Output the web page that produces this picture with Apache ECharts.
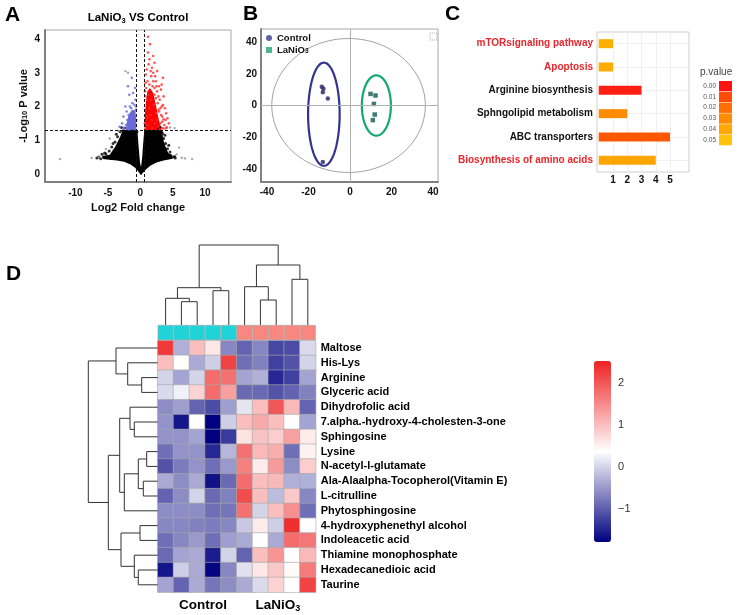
<!DOCTYPE html>
<html><head><meta charset="utf-8">
<script src="https://cdn.jsdelivr.net/npm/echarts@6/dist/echarts.min.js"></script>
<style>html,body{margin:0;padding:0;background:#fff}#c{width:738px;height:615px}</style>
</head><body><div id="c"></div>
<script>
// ---------- Panel A: volcano ----------
const volcanoXTicks = [-10, -5, 0, 5, 10];
const volcanoYTicks = [0, 1, 2, 3, 4];
const foldCut = 0.585, pCut = 1.301;
const blackCloud = [[0.1,-0.04],[-0.3,0.07],[-0.8,0.18],[-1.5,0.28],[-2.5,0.36],[-3.6,0.4],[-4.8,0.42],[-5.8,0.44],[-5.9,0.53],[-4.7,0.57],[-4.4,0.66],[-3.9,0.8],[-3.5,0.95],[-3.1,1.1],[-2.7,1.3],[-0.45,1.3],[-0.25,0.8],[-0.05,0.35],[0.12,0.2],[0.3,0.5],[0.45,0.9],[0.62,1.3],[3.3,1.3],[3.45,1.15],[3.65,0.95],[3.95,0.78],[4.3,0.62],[4.9,0.57],[5.0,0.45],[3.6,0.4],[2.5,0.34],[1.6,0.25],[0.9,0.14],[0.45,0.04]];
const redCloud = [[0.68,1.3],[3.3,1.3],[3.0,1.5],[2.7,1.75],[2.4,2.05],[2.0,2.4],[1.5,2.55],[1.1,2.45],[0.85,2.1],[0.7,1.7]];
const blueCloud = [[-0.62,1.3],[-2.2,1.3],[-2.1,1.5],[-1.8,1.75],[-1.3,1.9],[-0.75,1.88],[-0.62,1.6]];
const volcanoBlack = [[-3.1,1.25],[-3.5,1.1],[-3.9,0.95],[-4.4,0.8],[-4.8,0.68],[-5.3,0.6],[-5.9,0.58],[-6.4,0.5],[-2.9,1.38],[-3.3,0.9],[-4.0,0.62],[-2.7,1.28],[3.3,1.25],[3.6,1.05],[3.9,0.9],[4.2,0.75],[4.6,0.65],[5.0,0.5],[3.45,1.2],[3.1,1.38],[4.1,0.62],[-1.2,1.28],[-0.5,1.25],[0.8,1.27],[2.0,1.28],[-6.1,0.45],[-5.5,0.62],[-4.2,0.9],[-3.7,1.18],[5.3,0.52],[5.4,0.47],[4.4,0.85],[3.8,1.15],[-6.7,0.47],[-2.4,1.36],[2.8,1.35]];
const volcanoRed = [[1.2,4.07],[1.5,3.85],[1.4,3.4],[2.2,3.3],[2.6,3.05],[2.0,3.0],[1.0,3.1],[1.7,2.9],[3.5,2.85],[2.4,2.75],[1.1,2.75],[2.9,2.6],[3.2,2.5],[2.6,2.45],[1.9,2.6],[0.9,2.55],[3.6,2.3],[3.0,2.2],[2.7,2.1],[3.3,2.0],[3.8,1.95],[2.9,1.85],[3.4,1.7],[3.9,1.6],[3.1,1.5],[3.7,1.45],[4.1,1.38],[2.8,1.4],[3.5,1.35],[0.8,2.3],[1.3,2.35],[2.2,2.35],[1.6,2.2],[0.75,1.9],[2.4,1.8],[1.1,1.7],[0.7,1.5],[2.1,2.05],[1.8,1.6],[2.6,1.6],[3.0,1.33],[1.4,1.95],[1.9,1.35],[1.2,1.45],[0.9,1.35],[2.3,1.5],[1.6,1.75],[4.4,1.5],[4.0,1.8],[3.3,2.65],[0.85,2.95],[1.8,3.15],[2.3,2.9],[1.2,3.6],[3.5,2.04],[2.8,2.3],[3.4,1.55],[2.5,2.6],[1.4,2.65],[0.8,2.7],[2.0,2.75],[3.1,1.95],[3.6,1.62],[2.2,2.55],[1.6,3.05],[0.75,2.45],[1.3,3.25],[2.8,1.9],[3.9,1.35],[4.2,1.65],[2.4,2.25],[1.0,2.2],[3.2,1.75],[2.0,3.5]];
const volcanoBlue = [[-0.7,1.9],[-1.0,1.85],[-1.4,1.8],[-1.8,1.75],[-0.9,1.7],[-1.3,1.65],[-2.0,1.6],[-0.8,1.55],[-1.6,1.55],[-1.1,1.5],[-2.2,1.45],[-0.7,1.42],[-1.5,1.42],[-1.9,1.38],[-1.2,1.35],[-0.9,1.33],[-2.5,1.35],[-1.7,1.32],[-2.8,1.5],[-0.75,2.2],[-1.2,2.1],[-2.3,2.0],[-1.7,2.35],[-0.8,2.55],[-1.9,2.6],[-1.3,2.85],[-0.6,1.6],[-1.0,1.4],[-1.4,1.95],[-2.6,1.7],[-3.2,1.4],[-1.6,2.0],[-0.9,2.05],[-2.1,1.85],[-1.1,2.4],[-0.65,2.0]];
const volcanoGray = [[-12.4,0.44],[-7.5,0.47],[-6.4,0.49],[-5.3,0.74],[-4.7,1.05],[-3.4,1.28],[6.0,0.78],[6.4,0.48],[6.9,0.46],[8.0,0.44],[5.3,1.36],[4.6,1.38],[-2.3,3.05],[-1.9,3.0],[5.6,0.58]];

// ---------- Panel B: PCA ----------
const pcaTicks = [-40, -20, 0, 20, 40];
const pcaControl = [[-13.6,11.8],[-12.8,10.5],[-13.1,8.4],[-10.7,4.4],[-13.1,-35.6]];
const pcaLaNiO3 = [[9.9,7.3],[12.3,6.3],[11.5,1.0],[11.9,-5.7],[11.0,-9.2]];
const pcaEllipses = [[-0.7,0,37,42.2],[-12.6,-5.5,7.6,32.5],[12.7,0,7,19]];
const pcaEllipseColors = ['#8a8a8a','#34348f','#12a96f'];

// ---------- Panel C: pathways ----------
const pathways = ['mTORsignaling pathway','Apoptosis','Arginine biosynthesis','Sphngolipid metabolism','ABC transporters','Biosynthesis of amino acids'];
const pathwayCounts = [1, 1, 3, 2, 5, 4];
const pathwayP = [0.042, 0.041, 0.002, 0.03, 0.014, 0.039];
const pathwayHighlight = [true, true, false, false, false, true];
const pathwayTicks = [1, 2, 3, 4, 5];
const pLegendLabels = ['0.00','0.01','0.02','0.03','0.04','0.05'];
const pLegendColors = ['#ff1414','#ff4a08','#ff6e00','#ff8c00','#ffa800','#ffc40a'];

// ---------- Panel D: heatmap ----------
const metabolites = ['Maltose','His-Lys','Arginine','Glyceric acid','Dihydrofolic acid','7.alpha.-hydroxy-4-cholesten-3-one','Sphingosine','Lysine','N-acetyl-l-glutamate','Ala-Alaalpha-Tocopherol(Vitamin E)','L-citrulline','Phytosphingosine','4-hydroxyphenethyl alcohol','Indoleacetic acid','Thiamine monophosphate','Hexadecanedioic acid','Taurine'];
const samples = ['C1','C2','C3','C4','C5','L1','L2','L3','L4','L5'];
const sampleGroups = ['Control','Control','Control','Control','Control','LaNiO3','LaNiO3','LaNiO3','LaNiO3','LaNiO3'];
const zscores = [
  [2.3,-0.3,1.0,0.6,-0.65,-0.95,-0.65,-1.2,-1.15,0.05],
  [1.0,0.36,-0.35,-0.05,2.2,-0.85,-0.7,-1.25,-1.1,0.0],
  [0.0,-0.4,0.0,1.8,1.75,-0.4,-0.3,-1.45,-1.25,-0.4],
  [0.05,0.25,0.8,1.8,1.3,-0.9,-0.9,-1.1,-0.95,-0.7],
  [-0.6,-0.45,-0.95,-1.15,-0.45,0.15,1.0,2.0,1.05,-0.95],
  [-0.55,-1.6,0.36,-1.8,-0.05,1.0,1.2,1.0,0.36,-0.4],
  [-0.55,-0.55,-0.4,-1.8,-1.3,0.65,0.95,0.85,1.3,0.55],
  [-0.85,-0.55,-0.55,-1.45,-0.25,1.75,1.05,1.15,-0.85,0.5],
  [-1.1,-0.75,-0.55,-0.85,-0.5,1.6,0.55,1.35,-0.6,0.85],
  [-0.35,-0.6,-0.35,-1.65,-0.9,1.8,1.0,1.05,-0.3,-0.3],
  [-0.95,-0.6,0.0,-0.9,-0.7,2.1,1.0,-0.2,0.9,-0.65],
  [-0.6,-0.6,-0.6,-0.85,-0.8,1.75,0.0,1.0,1.45,-0.85],
  [-0.65,-0.65,-0.7,-0.75,-0.65,-0.1,0.55,-0.05,2.4,0.36],
  [-0.85,-0.65,-0.5,-0.85,-0.45,-0.35,0.36,-0.35,1.8,1.7],
  [-0.9,-0.4,-0.35,-1.55,0.0,-0.95,1.0,1.4,0.36,1.05],
  [-1.6,-0.05,-0.35,-1.75,-0.65,0.1,0.6,0.9,0.4,1.65],
  [-0.4,-0.95,-0.35,-0.8,-0.6,-0.35,0.05,0.8,0.36,2.2]
];
const colorbarTicks = [-1, 0, 1, 2];
const zMin = -1.79, zMax = 2.52;
// dendrograms: [childA, childB, height]; leaves 0..n-1, new nodes numbered n, n+1, ...
const colMerges = [[1,2,23.3],[0,10,26.7],[3,4,34.3],[11,12,37.3],[6,7,25],[5,14,38.3],[8,9,45.7],[15,16,60],[13,17,80]];
const rowMerges = [[2,3,16],[1,17,30],[0,18,41.7],[5,6,23.4],[4,20,27.7],[7,8,11],[9,10,14.4],[22,23,19.4],[24,11,33.4],[21,25,38],[12,13,17.7],[15,16,19.4],[14,28,23.4],[27,29,36.7],[26,30,49.4],[19,31,69.4]];
const groupColors = {Control:'#1ed4d8', LaNiO3:'#f7877f'};

// ---------- helpers ----------
const F = '"Liberation Sans", Arial, sans-serif';
const txt = (size, extra) => Object.assign({fontFamily:F, fontWeight:'bold', fontSize:size, color:'#111'}, extra || {});
function layoutTree(merges, n){
  const pos = [], hgt = [];
  for (let i = 0; i < n; i++) { pos.push(i + 0.5); hgt.push(0); }
  merges.forEach(m => { pos.push((pos[m[0]] + pos[m[1]]) / 2); hgt.push(m[2]); });
  return {pos, hgt};
}
const colTree = layoutTree(colMerges, samples.length);
const rowTree = layoutTree(rowMerges, metabolites.length);

function polySeries(gi, pts, color, opacity){
  return {type:'custom', xAxisIndex:gi, yAxisIndex:gi, data:pts, silent:true, z:2,
    renderItem:(p, api) => p.dataIndex !== 0 ? null :
      {type:'polygon', shape:{points:pts.map(q => api.coord(q))}, style:{fill:color, opacity:opacity}}};
}
function dendroSeries(gi, merges, tree, horizontal){
  return {type:'custom', xAxisIndex:gi, yAxisIndex:gi, data:merges.map((m,i)=>[i]), silent:true,
    renderItem:(p, api) => {
      const m = merges[p.dataIndex], a = m[0], b = m[1], h = m[2];
      const raw = [[tree.pos[a], tree.hgt[a]],[tree.pos[a], h],[tree.pos[b], h],[tree.pos[b], tree.hgt[b]]];
      const pts = raw.map(q => api.coord(horizontal ? [q[1], q[0]] : q));
      return {type:'polyline', shape:{points:pts}, style:{stroke:'#333', lineWidth:1, fill:null}};
    }};
}

// ---------- series ----------
const series = [];
// A
series.push(polySeries(0, blackCloud, '#000', 1));
series.push(polySeries(0, redCloud, '#ff0000', 1));
series.push(polySeries(0, blueCloud, '#6868d8', 1));
series.push({type:'scatter', xAxisIndex:0, yAxisIndex:0, data:volcanoBlack, symbolSize:3, itemStyle:{color:'#000'}, z:3, silent:true});
series.push({type:'scatter', xAxisIndex:0, yAxisIndex:0, data:volcanoRed, symbolSize:2.6, itemStyle:{color:'#ff2a2a', opacity:0.8}, z:3, silent:true});
series.push({type:'scatter', xAxisIndex:0, yAxisIndex:0, data:volcanoBlue, symbolSize:2.6, itemStyle:{color:'#6d6de0', opacity:0.85}, z:3, silent:true});
series.push({type:'scatter', xAxisIndex:0, yAxisIndex:0, data:volcanoGray, symbolSize:2.4, itemStyle:{color:'#8e8ea6', opacity:0.8}, z:3, silent:true,
  markLine:{silent:true, symbol:'none', label:{show:false}, lineStyle:{type:[3,2], color:'#111', width:1},
    data:[{xAxis:-foldCut},{xAxis:foldCut},{yAxis:pCut}]}});
// B
series.push({type:'custom', xAxisIndex:1, yAxisIndex:1, data:pcaEllipses, silent:true, z:2,
  renderItem:(p, api) => {
    const e = pcaEllipses[p.dataIndex], pts = [];
    for (let k = 0; k <= 120; k++) { const t = k / 120 * Math.PI * 2; pts.push(api.coord([e[0] + e[2]*Math.cos(t), e[1] + e[3]*Math.sin(t)])); }
    return {type:'polyline', shape:{points:pts}, style:{stroke:pcaEllipseColors[p.dataIndex], lineWidth:p.dataIndex === 0 ? 0.8 : 2.2, fill:null}};
  },
  markLine:{silent:true, symbol:'none', label:{show:false}, lineStyle:{type:'solid', color:'#b0b0b0', width:1}, data:[{xAxis:0},{yAxis:0}]}});
series.push({name:'Control', type:'scatter', xAxisIndex:1, yAxisIndex:1, data:pcaControl, symbol:'circle', symbolSize:4.5, itemStyle:{color:'#22225e'}, z:4});
series.push({name:'LaNiO3', type:'scatter', xAxisIndex:1, yAxisIndex:1, data:pcaLaNiO3, symbol:'rect', symbolSize:4.5, itemStyle:{color:'#0f5a4e'}, z:4});
// C
const barIdx = series.length;
series.push({type:'bar', xAxisIndex:2, yAxisIndex:2, barWidth:9, z:3,
  data:pathways.map((n,i)=>[pathwayCounts[i], i, pathwayP[i]]), encode:{x:0, y:1},
  markLine:{silent:true, symbol:'none', label:{show:false}, z:1, lineStyle:{type:'solid', color:'#ececec', width:0.8},
    data:pathwayTicks.map(t=>({xAxis:t})).concat(pathways.map((n,i)=>({yAxis:i})))}});
// D heatmap
const heatIdx = series.length;
const heatData = [];
zscores.forEach((row, r) => row.forEach((v, c) => heatData.push([c, r, v])));
series.push({type:'heatmap', xAxisIndex:3, yAxisIndex:3, data:heatData, silent:true,
  itemStyle:{borderColor:'#a8a8a8', borderWidth:0.6}, emphasis:{disabled:true}});
series.push({type:'bar', xAxisIndex:4, yAxisIndex:4, barWidth:'100%', silent:true,
  data:samples.map((s,i)=>({value:1, itemStyle:{color:groupColors[sampleGroups[i]]}})),
  itemStyle:{borderColor:'#a0a0a0', borderWidth:0.6}});
series.push(dendroSeries(5, colMerges, colTree, false));
series.push(dendroSeries(6, rowMerges, rowTree, true));
series.push({type:'scatter', xAxisIndex:7, yAxisIndex:7, data:[]});

// ---------- axes ----------
const hidden = {show:false};
const option = {
  animation:false,
  backgroundColor:'#fff',
  grid:[
    {left:45, top:30, width:186, height:152, show:true, borderColor:'#a8a8a8', borderWidth:1},
    {left:261, top:29, width:177, height:153, show:true, borderColor:'#a8a8a8', borderWidth:1},
    {left:597, top:32, width:92, height:140, show:true, borderColor:'#cfcfcf', borderWidth:1},
    {left:157.7, top:340.6, width:158, height:251.6},
    {left:157.7, top:325, width:158, height:15.2},
    {left:157.7, top:245, width:158, height:80},
    {left:88, top:340.6, width:69.7, height:251.6},
    {left:594, top:361, width:17, height:181}
  ],
  xAxis:[
    {gridIndex:0, type:'value', min:-14.7, max:14, splitLine:hidden, axisTick:hidden,
     axisLine:{onZero:false, lineStyle:{color:'#808080', width:2}},
     axisLabel:Object.assign(txt(10), {customValues:volcanoXTicks, margin:6}),
     name:'Log2 Fold change', nameLocation:'middle', nameGap:20, nameTextStyle:txt(11)},
    {gridIndex:1, type:'value', min:-42.9, max:42.4, splitLine:hidden, axisTick:hidden,
     axisLine:{onZero:false, lineStyle:{color:'#808080', width:2}},
     axisLabel:Object.assign(txt(10), {customValues:pcaTicks, margin:5})},
    {gridIndex:2, type:'value', min:-0.12, max:6.33, splitLine:hidden, axisTick:hidden, axisLine:hidden,
     axisLabel:Object.assign(txt(10), {customValues:pathwayTicks, margin:3})},
    {gridIndex:3, type:'category', data:samples, show:false},
    {gridIndex:4, type:'category', data:samples, show:false},
    {gridIndex:5, type:'value', min:0, max:10, show:false},
    {gridIndex:6, type:'value', min:0, max:69.7, inverse:true, show:false},
    {gridIndex:7, type:'value', min:0, max:1, show:false}
  ],
  yAxis:[
    {gridIndex:0, type:'value', min:-0.24, max:4.27, splitLine:hidden, axisTick:hidden,
     axisLine:{onZero:false, lineStyle:{color:'#808080', width:2}},
     axisLabel:Object.assign(txt(10), {customValues:volcanoYTicks, margin:5}),
     name:'-Log{s|10} P value', nameLocation:'middle', nameGap:16,
     nameTextStyle:txt(11, {rich:{s:{fontFamily:F, fontWeight:'bold', fontSize:7.5, verticalAlign:'bottom', lineHeight:8}}})},
    {gridIndex:1, type:'value', min:-48.2, max:48.2, splitLine:hidden, axisTick:hidden,
     axisLine:{onZero:false, lineStyle:{color:'#808080', width:2}},
     axisLabel:Object.assign(txt(10), {customValues:pcaTicks, margin:4})},
    {gridIndex:2, type:'category', data:pathways, inverse:true, axisTick:hidden, axisLine:hidden, splitLine:hidden,
     axisLabel:{margin:4, formatter:(v,i)=> pathwayHighlight[i] ? '{r|'+v+'}' : '{k|'+v+'}',
       rich:{r:txt(10,{color:'#e8262b'}), k:txt(10,{color:'#111'})}}},
    {gridIndex:3, type:'category', data:metabolites, inverse:true, position:'right', axisTick:hidden, axisLine:hidden,
     axisLabel:txt(11, {margin:5, color:'#000'})},
    {gridIndex:4, type:'value', min:0, max:1, show:false},
    {gridIndex:5, type:'value', min:0, max:80, show:false},
    {gridIndex:6, type:'value', min:0, max:17, inverse:true, show:false},
    {gridIndex:7, type:'value', min:zMin, max:zMax, position:'right', splitLine:hidden, axisTick:hidden, axisLine:hidden,
     axisLabel:{customValues:colorbarTicks, margin:7, fontFamily:F, fontSize:11, color:'#333',
       formatter:v => v < 0 ? '\u2212' + (-v) : String(v)}}
  ],
  visualMap:[
    {type:'continuous', seriesIndex:heatIdx, dimension:2, min:zMin, max:zMax, left:594, top:361, itemWidth:17, itemHeight:181,
     padding:0, calculable:false, realtime:false, text:null, inRange:{color:['#000080','#ffffff','#ee2222']}, textStyle:{fontSize:0}},
    {type:'continuous', show:false, seriesIndex:barIdx, dimension:2, min:0, max:0.05, inRange:{color:pLegendColors}}
  ],
  legend:{left:266, top:33, orient:'vertical', itemWidth:6, itemHeight:6, itemGap:2, padding:0,
    textStyle:txt(9.5, {rich:{s:{fontFamily:F, fontWeight:'bold', fontSize:6.5, verticalAlign:'bottom', lineHeight:7}}}),
    formatter:n => n === 'LaNiO3' ? 'LaNiO{s|3}' : n,
    data:[{name:'Control', icon:'circle', itemStyle:{color:'#3b3b96'}},{name:'LaNiO3', icon:'rect', itemStyle:{color:'#1aa874'}}]},
  series:series,
  graphic:[]
};

// ---------- text & legend graphics ----------
const G = option.graphic;
const letter = (t, x, y) => G.push({type:'text', x:x, y:y, style:{text:t, font:'bold 21px ' + F, fill:'#000'}});
letter('A', 5, 5); letter('B', 243, 4); letter('C', 445, 4); letter('D', 6, 264);
G.push({type:'text', x:138, y:18, style:{text:'{a|LaNiO}{s|3}{a| VS Control}', textAlign:'center', textVerticalAlign:'middle',
  rich:{a:{fontFamily:F, fontWeight:'bold', fontSize:11.5, lineHeight:14}, s:{fontFamily:F, fontWeight:'bold', fontSize:7.5, lineHeight:8, verticalAlign:'bottom'}}}});
G.push({type:'rect', shape:{x:430, y:33, width:7, height:7}, style:{fill:'#fff', stroke:'#999', lineWidth:0.8, lineDash:[1,1]}});
// p.value legend
G.push({type:'text', x:700, y:72, style:{text:'p.value', font:'10px ' + F, fill:'#444', textVerticalAlign:'middle'}});
pLegendColors.forEach((c, i) => {
  G.push({type:'rect', shape:{x:719, y:81 + i*10.8, width:13, height:10.3}, style:{fill:c}});
  G.push({type:'text', x:716, y:86 + i*10.8, style:{text:pLegendLabels[i], font:'6.5px ' + F, fill:'#555', textAlign:'right', textVerticalAlign:'middle'}});
});
// group labels under heatmap
G.push({type:'text', x:203, y:605, style:{text:'Control', font:'bold 13.5px ' + F, fill:'#000', textAlign:'center', textVerticalAlign:'middle'}});
G.push({type:'text', x:278, y:605, style:{text:'{a|LaNiO}{s|3}', textAlign:'center', textVerticalAlign:'middle',
  rich:{a:{fontFamily:F, fontWeight:'bold', fontSize:13.5, lineHeight:16}, s:{fontFamily:F, fontWeight:'bold', fontSize:9, lineHeight:9, verticalAlign:'bottom'}}}});

const chart = echarts.init(document.getElementById('c'), null, {width:738, height:615});
chart.setOption(option);
</script></body></html>
